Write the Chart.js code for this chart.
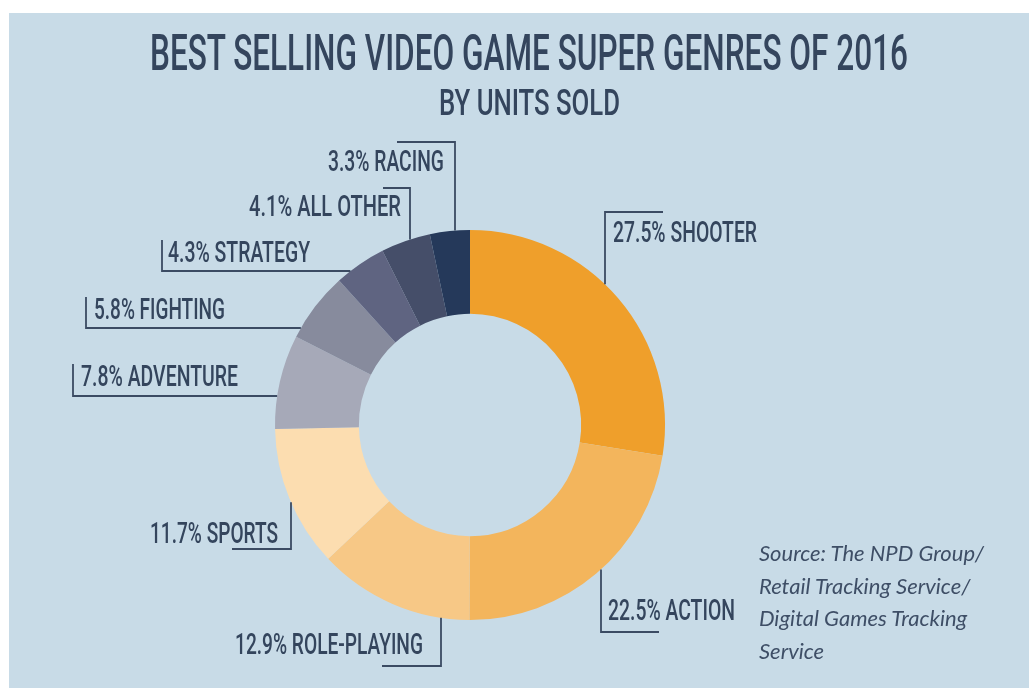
<!DOCTYPE html>
<html>
<head>
<meta charset="utf-8">
<script src="https://cdn.jsdelivr.net/npm/chart.js@4.4.1/dist/chart.umd.min.js"></script>
<style>
  body { margin: 0; background: #fff; width: 1029px; height: 688px; overflow: hidden; }
  .panel { position: absolute; left: 9px; top: 13px; width: 1020px; height: 675px; background: #c8dbe7; }
  canvas { position: absolute; left: 0; top: 0; }
  .head { position: absolute; white-space: nowrap; font-family: Roboto, sans-serif; font-weight: 500; color: #34455d; line-height: 1; transform-origin: 0 0; }
  .title { font-size: 50px; }
  .sub { font-size: 37px; }
  .source { position: absolute; left: 750px; top: 524px; font-family: Lato, sans-serif; font-style: italic; font-size: 22px; line-height: 32.5px; color: #3e4e66; white-space: nowrap; }
</style>
</head>
<body>
<div class="panel">
  <canvas id="donut" width="1020" height="675"></canvas>
  <div class="head title" id="title">BEST SELLING VIDEO GAME SUPER GENRES OF 2016</div>
  <div class="head sub" id="sub">BY UNITS SOLD</div>
  <div class="source">Source: The NPD Group/<br>Retail Tracking Service/<br>Digital Games Tracking<br>Service</div>
</div>
<script>
const genres = ["SHOOTER", "ACTION", "ROLE-PLAYING", "SPORTS", "ADVENTURE", "FIGHTING", "STRATEGY", "ALL OTHER", "RACING"];
const shares = [27.5, 22.5, 12.9, 11.7, 7.8, 5.8, 4.3, 4.1, 3.3];
const sliceColors = ["#ef9f2b", "#f3b55c", "#f7c886", "#fcddb0", "#a6a9b8", "#878b9d", "#5f6481", "#454e69", "#25395a"];

// where each callout sits (canvas px): text left, baseline, width, leader corner, leader end, ray toward ring
const callouts = [
  { tx: 604, ty: 229, tw: 144, cx: 596, cy: 199, ex: 654, ray: "down" },
  { tx: 599, ty: 607, tw: 127, cx: 592, cy: 619, ex: 650, ray: "up" },
  { tx: 226, ty: 641, tw: 188, cx: 432, cy: 653, ex: 373, ray: "up" },
  { tx: 141, ty: 530, tw: 128, cx: 282, cy: 536, ex: 223, ray: "up" },
  { tx: 72, ty: 373, tw: 157, cx: 64, cy: 383, ey: 351, ray: "right" },
  { tx: 85, ty: 306, tw: 131, cx: 77, cy: 315, ey: 284, ray: "right" },
  { tx: 159, ty: 249, tw: 142, cx: 153, cy: 258, ey: 227, ray: "right" },
  { tx: 240, ty: 203, tw: 152, cx: 401, cy: 175, ex: 374, ray: "down" },
  { tx: 319, ty: 158, tw: 116, cx: 446, cy: 129, ex: 388, ray: "down" },
];

// fit the heading widths to the reference
function fit(id, left, width) {
  const el = document.getElementById(id);
  const w = el.getBoundingClientRect().width;
  el.style.left = left + "px";
  el.style.transform = "scaleX(" + (width / w) + ")";
}
document.getElementById("title").style.top = "15px";
document.getElementById("sub").style.top = "71px";
fit("title", 141, 758);
fit("sub", 430, 181);

const calloutPlugin = {
  id: "callouts",
  afterDraw(chart) {
    const ctx = chart.ctx;
    const arcs = chart.getDatasetMeta(0).data;
    ctx.save();
    ctx.strokeStyle = "#3b4b63";
    ctx.lineWidth = 1.8;
    ctx.fillStyle = "#34455d";
    ctx.font = "500 29px Roboto";
    ctx.textBaseline = "alphabetic";
    callouts.forEach((c, i) => {
      const a = arcs[i];
      const r = a.outerRadius;
      ctx.beginPath();
      if (c.ray === "right") {
        const hx = a.x - Math.sqrt(r * r - (c.cy - a.y) * (c.cy - a.y));
        ctx.moveTo(c.cx, c.ey);
        ctx.lineTo(c.cx, c.cy);
        ctx.lineTo(hx, c.cy);
      } else {
        const d = Math.sqrt(r * r - (c.cx - a.x) * (c.cx - a.x));
        const vy = c.ray === "down" ? a.y - d : a.y + d;
        ctx.moveTo(c.ex, c.cy);
        ctx.lineTo(c.cx, c.cy);
        ctx.lineTo(c.cx, vy);
      }
      ctx.stroke();
      const label = shares[i].toFixed(1) + "% " + genres[i];
      ctx.fillText(label, c.tx, c.ty, c.tw);
    });
    ctx.restore();
  },
};

new Chart(document.getElementById("donut"), {
  type: "doughnut",
  data: {
    labels: genres,
    datasets: [{
      data: shares,
      backgroundColor: sliceColors,
      borderWidth: 0,
      hoverOffset: 0,
    }],
  },
  options: {
    responsive: false,
    animation: false,
    events: [],
    cutout: "57%",
    layout: { padding: { left: 266, right: 364, top: 217, bottom: 68 } },
    plugins: {
      legend: { display: false },
      tooltip: { enabled: false },
    },
  },
  plugins: [calloutPlugin],
});
</script>
</body>
</html>
